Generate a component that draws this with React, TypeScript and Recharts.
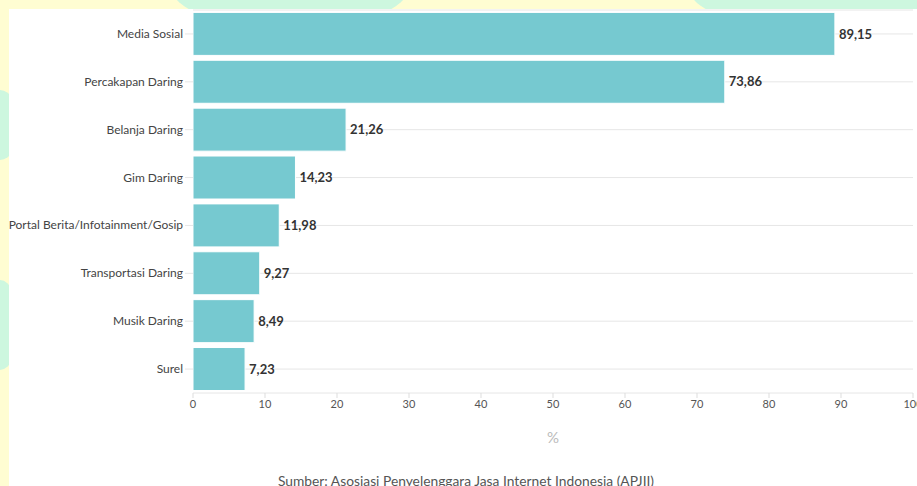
import React from "react";
import { BarChart, Bar, XAxis, YAxis, CartesianGrid, LabelList } from "recharts";

const categories = [
  "Media Sosial",
  "Percakapan Daring",
  "Belanja Daring",
  "Gim Daring",
  "Portal Berita/Infotainment/Gosip",
  "Transportasi Daring",
  "Musik Daring",
  "Surel",
];
const values = [89.15, 73.86, 21.26, 14.23, 11.98, 9.27, 8.49, 7.23];
const xTicks = [0, 10, 20, 30, 40, 50, 60, 70, 80, 90, 100];

const data = categories.map((name, i) => ({ name, value: values[i] }));

const FONT = "Lato, 'Open Sans', sans-serif";

const fmt = (v: any) => Number(v).toFixed(2).replace(".", ",");

// single-line category label (recharts would wrap the long one)
const CatTick = ({ x, y, payload }: any) => (
  <text x={x} y={y} dy={4} textAnchor="end" fill="#444444" fontSize={12} fontFamily={FONT}>
    {payload.value}
  </text>
);

export default function App() {
  return (
    <div style={{ position: "absolute", left: 0, top: 0, width: 917, height: 486, overflow: "hidden", background: "#fffdd2", fontFamily: FONT }}>
      {/* background decoration */}
      <div style={{ position: "absolute", left: 170, top: -60, width: 240, height: 90, borderRadius: "50%", background: "#cdf7df" }} />
      <div style={{ position: "absolute", left: 690, top: -50, width: 260, height: 80, borderRadius: "50%", background: "#cdf7df" }} />
      <div style={{ position: "absolute", left: -20, top: 90, width: 40, height: 70, borderRadius: "50%", background: "#cdf7df" }} />
      <div style={{ position: "absolute", left: -20, top: 280, width: 40, height: 90, borderRadius: "50%", background: "#cdf7df" }} />
      <div style={{ position: "absolute", left: 9, top: 9, width: 908, height: 477, background: "#ffffff" }} />

      <div style={{ position: "absolute", left: 0, top: 0 }}>
        <BarChart
          width={917}
          height={420}
          data={data}
          layout="vertical"
          margin={{ top: 10, right: 4, bottom: 0, left: 0 }}
          barCategoryGap="5%"
        >
          <CartesianGrid horizontal={true} vertical={false} stroke="#e6e6e6" />
          <XAxis
            type="number"
            domain={[0, 100]}
            ticks={xTicks}
            interval={0}
            axisLine={false}
            tickSize={5}
            tickLine={{ stroke: "#dddddd" }}
            tick={{ fill: "#555555", fontSize: 11, fontFamily: FONT }}
            height={27}
          />
          <YAxis
            type="category"
            dataKey="name"
            width={193}
            axisLine={false}
            tickSize={8}
            tickMargin={2}
            tickLine={{ stroke: "#e6e6e6" }}
            tick={<CatTick />}
            interval={0}
          />
          <Bar dataKey="value" fill="#76c9d0" stroke="#ffffff" strokeWidth={1} isAnimationActive={false}>
            <LabelList
              dataKey="value"
              position="right"
              offset={4}
              formatter={fmt}
              style={{ fill: "#333333", fontSize: 13, fontWeight: 700, fontFamily: FONT }}
            />
          </Bar>
        </BarChart>
      </div>

      <div style={{ position: "absolute", left: 533, top: 428, width: 40, textAlign: "center", color: "#bbbbbb", fontSize: 15 }}>%</div>
      <div style={{ position: "absolute", left: 0, top: 472, width: 932, textAlign: "center", color: "#555555", fontSize: 13.8 }}>
        Sumber: Asosiasi Penyelenggara Jasa Internet Indonesia (APJII)
      </div>
    </div>
  );
}
